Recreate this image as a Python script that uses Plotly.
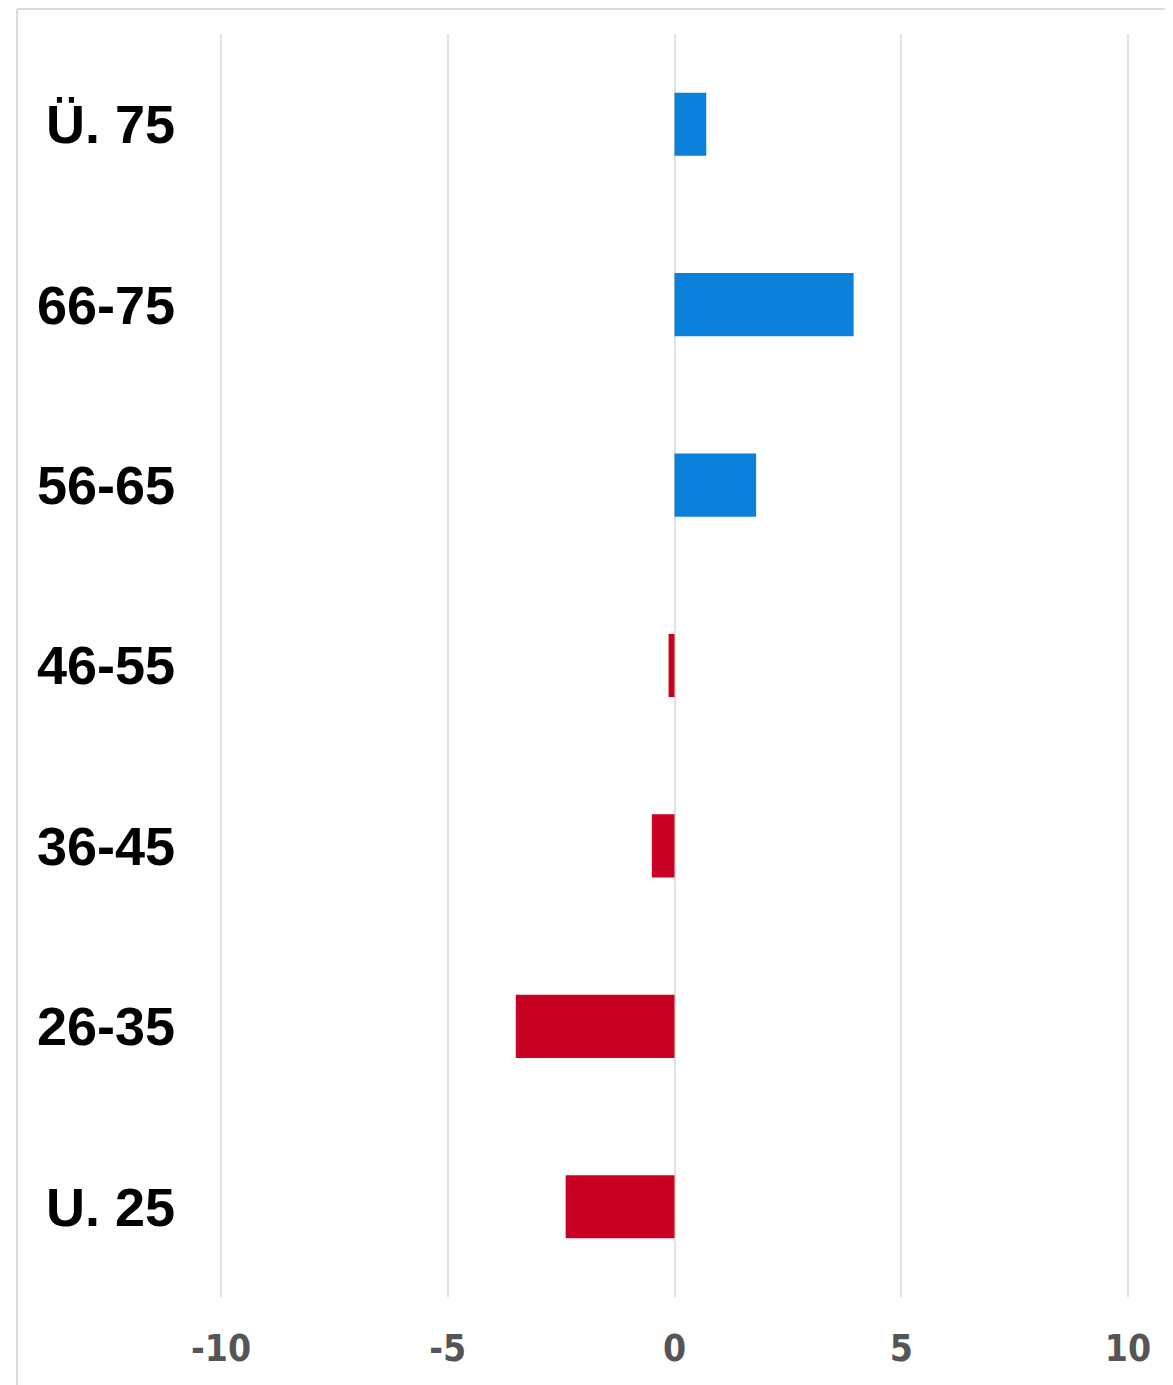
import plotly.graph_objects as go

categories = ["U. 25", "26-35", "36-45", "46-55", "56-65", "66-75", "Ü. 75"]
values = [-2.4, -3.5, -0.5, -0.13, 1.8, 3.95, 0.7]
x_ticks = [-10, -5, 0, 5, 10]

BLUE = "#0A80DA"
RED = "#C80022"
colors = [BLUE if v >= 0 else RED for v in values]

# page has an 8px body margin; figure occupies 8..1173
OFF = 8
W, H = 1173 - OFF, 1385 - OFF
PL, PR = 216, 1133          # page x of plot area edges
L, R, T, B = PL - OFF, 1173 - PR, 34 - OFF, 1385 - 1297
pw, ph = W - L - R, H - T - B
unit = (1128 - 221) / 20.0
xr = [-10 - (221 - PL) / unit, 10 + (PR - 1128) / unit]

def px(x):
    return (x - OFF - L) / pw

def py(y):
    return 1 - (y - OFF - T) / ph

fig = go.Figure(go.Bar(
    y=categories, x=values, orientation="h",
    marker=dict(color=colors, line=dict(width=0)),
    hoverinfo="x+y",
))

fig.update_layout(
    width=W, height=H,
    margin=dict(l=L, r=R, t=T, b=B),
    paper_bgcolor="white", plot_bgcolor="white",
    bargap=0.65, showlegend=False,
    xaxis=dict(
        range=xr, tickvals=x_ticks, ticktext=[str(t) for t in x_ticks],
        showgrid=True, gridcolor="#E0E0E0", gridwidth=1.5,
        zeroline=True, zerolinecolor="#E0E0E0", zerolinewidth=1.5,
        showline=False, ticks="", ticklabelstandoff=26,
        tickfont=dict(family="Liberation Sans Narrow, Arial Narrow, DejaVu Sans Condensed, sans-serif",
                      size=37, color="#555555", weight="bold"),
        fixedrange=True,
    ),
    yaxis=dict(
        categoryorder="array", categoryarray=categories,
        showgrid=False, zeroline=False, showline=False, ticks="",
        ticklabelstandoff=40,
        tickfont=dict(family="Liberation Sans, Arial, sans-serif", size=54,
                      color="#000000", weight="bold"),
        fixedrange=True,
    ),
    shapes=[
        dict(type="line", xref="paper", yref="paper", x0=px(17), x1=px(1200),
             y0=py(9), y1=py(9), line=dict(color="#DADADA", width=2)),
        dict(type="line", xref="paper", yref="paper", x0=px(17), x1=px(17),
             y0=py(9), y1=py(1400), line=dict(color="#DADADA", width=2)),
    ],
)

fig.write_html("out.html")
